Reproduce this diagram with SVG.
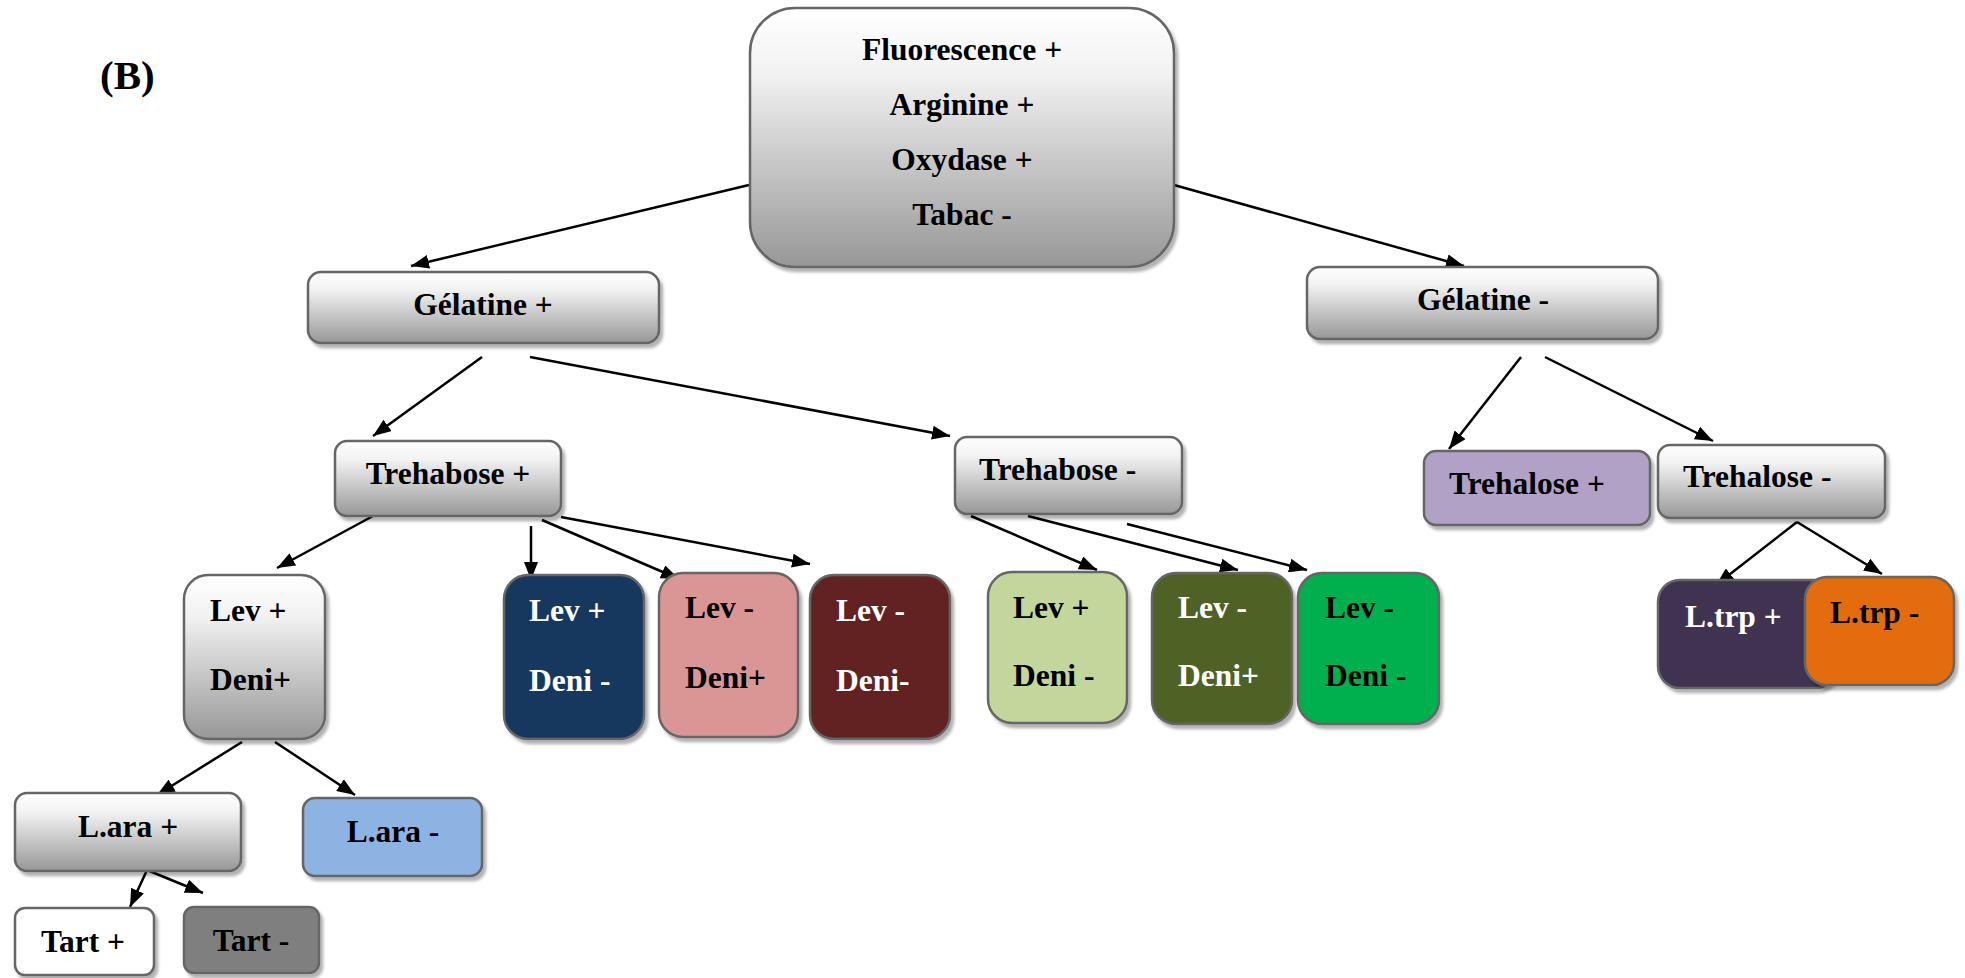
<svg xmlns="http://www.w3.org/2000/svg" width="1965" height="978" viewBox="0 0 1965 978">
<style>
text{font-weight:bold;font-size:31.5px;fill:#000}
.w{fill:#fff}
.c{text-anchor:middle}
.b{stroke:#666;stroke-width:2.5;filter:url(#ds)}
.g{fill:url(#gr)}
.cn line{stroke:#000;stroke-width:2.5;marker-end:url(#ah)}
</style>
<defs>
<linearGradient id="gr" x1="0" y1="0" x2="0" y2="1">
<stop offset="0" stop-color="#ffffff"/>
<stop offset="0.25" stop-color="#f2f2f2"/>
<stop offset="1" stop-color="#979797"/>
</linearGradient>
<filter id="ds" x="-10%" y="-10%" width="130%" height="130%">
<feDropShadow dx="3" dy="4" stdDeviation="1.5" flood-color="#000" flood-opacity="0.3"/>
</filter>
<marker id="ah" markerUnits="userSpaceOnUse" markerWidth="18" markerHeight="14" refX="18" refY="7" orient="auto">
<path d="M0,0 L18,7 L0,14 z" fill="#000"/>
</marker>
</defs>
<rect width="1965" height="978" fill="#fff"/>
<g font-family="'Liberation Serif', 'Times New Roman', serif">
<text x="100" y="89" style="font-size:41px">(B)</text>

<g class="cn">
<line x1="749" y1="185" x2="411" y2="266"/>
<line x1="1174" y1="185" x2="1464" y2="266"/>
<line x1="482" y1="357" x2="373" y2="436"/>
<line x1="530" y1="357" x2="950" y2="436"/>
<line x1="1521" y1="357" x2="1449" y2="449"/>
<line x1="1545" y1="357" x2="1713" y2="441"/>
<line x1="373" y1="516" x2="277" y2="568"/>
<line x1="531" y1="526" x2="531" y2="580"/>
<line x1="542" y1="520" x2="679" y2="579"/>
<line x1="561" y1="517" x2="810" y2="564"/>
<line x1="971" y1="516" x2="1097" y2="570"/>
<line x1="1028" y1="516" x2="1238" y2="570"/>
<line x1="1127" y1="524" x2="1307" y2="570"/>
<line x1="1797" y1="522" x2="1716" y2="585"/>
<line x1="1797" y1="522" x2="1882" y2="574"/>
<line x1="242" y1="742" x2="157" y2="795"/>
<line x1="275" y1="742" x2="355" y2="795"/>
<line x1="147" y1="870" x2="130" y2="907"/>
<line x1="147" y1="870" x2="203" y2="893"/>
</g>

<g id="root">
<rect class="b g" x="750" y="8" width="424" height="259" rx="45"/>
<text class="c" x="962" y="60">Fluorescence +</text>
<text class="c" x="962" y="115">Arginine +</text>
<text class="c" x="962" y="170">Oxydase +</text>
<text class="c" x="962" y="225">Tabac -</text>
</g>
<g id="gelatine-pos">
<rect class="b g" x="308" y="272" width="351" height="71" rx="13"/>
<text class="c" x="483" y="315">Gélatine +</text>
</g>
<g id="gelatine-neg">
<rect class="b g" x="1307" y="267" width="351" height="72" rx="13"/>
<text class="c" x="1483" y="310">Gélatine -</text>
</g>
<g id="trehabose-pos">
<rect class="b g" x="335" y="441" width="226" height="75" rx="12"/>
<text class="c" x="448" y="484">Trehabose +</text>
</g>
<g id="trehabose-neg">
<rect class="b g" x="955" y="437" width="227" height="77" rx="12"/>
<text x="979" y="480">Trehabose -</text>
</g>
<g id="trehalose-pos">
<rect class="b" x="1424" y="451" width="226" height="74" rx="12" fill="#B2A1C7"/>
<text x="1449" y="494">Trehalose +</text>
</g>
<g id="trehalose-neg">
<rect class="b g" x="1658" y="445" width="227" height="73" rx="12"/>
<text x="1683" y="487">Trehalose -</text>
</g>
<g id="lev-pos-deni-pos">
<rect class="b g" x="184" y="575" width="141" height="164" rx="24"/>
<text x="210" y="621">Lev +</text>
<text x="210" y="690">Deni+</text>
</g>
<g id="lev-pos-deni-neg-a">
<rect class="b" x="504" y="575" width="140" height="164" rx="24" fill="#17375E"/>
<text class="w" x="529" y="621">Lev +</text>
<text class="w" x="529" y="691">Deni -</text>
</g>
<g id="lev-neg-deni-pos-a">
<rect class="b" x="659" y="573" width="139" height="164" rx="24" fill="#D99694"/>
<text x="685" y="618">Lev -</text>
<text x="685" y="688">Deni+</text>
</g>
<g id="lev-neg-deni-neg-a">
<rect class="b" x="810" y="575" width="140" height="164" rx="24" fill="#632423"/>
<text class="w" x="836" y="621">Lev -</text>
<text class="w" x="836" y="691">Deni-</text>
</g>
<g id="lev-pos-deni-neg-b">
<rect class="b" x="988" y="572" width="139" height="151" rx="24" fill="#C3D69B"/>
<text x="1013" y="618">Lev +</text>
<text x="1013" y="686">Deni -</text>
</g>
<g id="lev-neg-deni-pos-b">
<rect class="b" x="1152" y="573" width="140" height="151" rx="24" fill="#4F6228"/>
<text class="w" x="1178" y="618">Lev -</text>
<text class="w" x="1178" y="686">Deni+</text>
</g>
<g id="lev-neg-deni-neg-b">
<rect class="b" x="1298" y="573" width="141" height="151" rx="24" fill="#00B050"/>
<text x="1325" y="618">Lev -</text>
<text x="1325" y="686">Deni -</text>
</g>
<g id="ltrp-pos">
<rect class="b" x="1658" y="580" width="179" height="108" rx="22" fill="#3F3151"/>
<text class="w" x="1685" y="627">L.trp +</text>
</g>
<g id="ltrp-neg">
<rect class="b" x="1805" y="577" width="149" height="108" rx="22" fill="#E36C09"/>
<text x="1830" y="623">L.trp -</text>
</g>
<g id="lara-pos">
<rect class="b g" x="15" y="793" width="226" height="78" rx="12"/>
<text class="c" x="128" y="837">L.ara +</text>
</g>
<g id="lara-neg">
<rect class="b" x="303" y="798" width="179" height="78" rx="12" fill="#8DB3E2"/>
<text class="c" x="393" y="842">L.ara -</text>
</g>
<g id="tart-pos">
<rect class="b" x="15" y="908" width="139" height="67" rx="10" fill="#fff"/>
<text class="c" x="83" y="952">Tart +</text>
</g>
<g id="tart-neg">
<rect class="b" x="184" y="907" width="135" height="66" rx="10" fill="#7F7F7F"/>
<text class="c" x="251" y="951">Tart -</text>
</g>
</g>
</svg>
